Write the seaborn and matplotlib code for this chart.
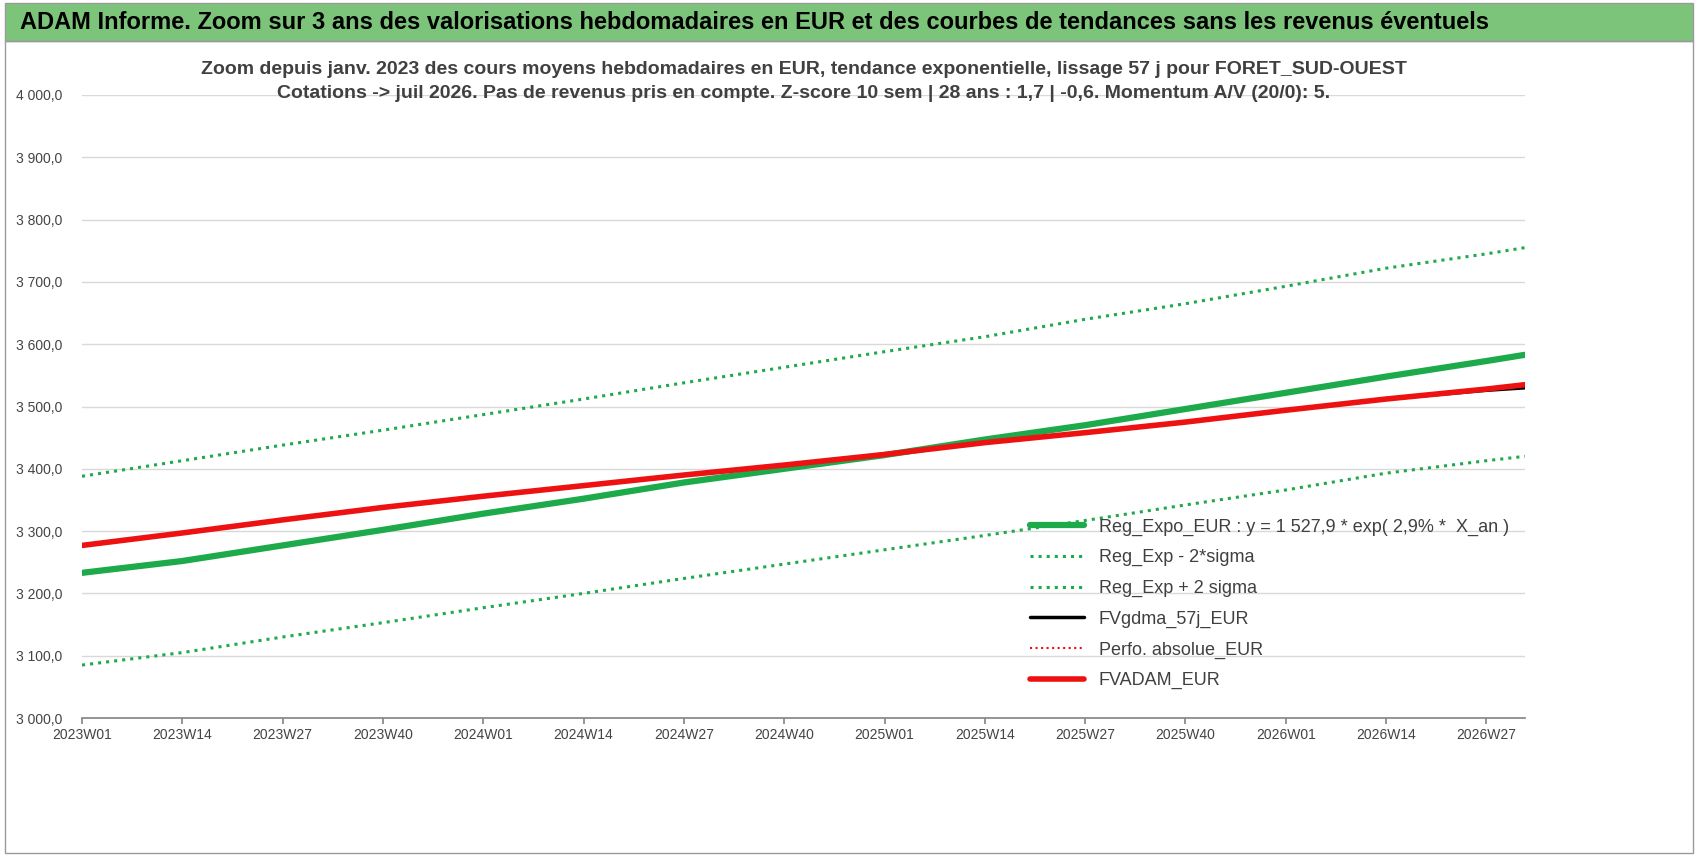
import matplotlib.pyplot as plt
import matplotlib.ticker as ticker
import pandas as pd
import seaborn as sns

# ---------------------------------------------------------------------------
# Data (read from the reference, sampled at each tick + last week)
# ---------------------------------------------------------------------------
WEEK_IDX = [0, 13, 26, 39, 52, 65, 78, 91, 104, 117, 130, 143, 156, 169, 182, 187]
TICK_LABELS = ["2023W01", "2023W14", "2023W27", "2023W40", "2024W01", "2024W14",
               "2024W27", "2024W40", "2025W01", "2025W14", "2025W27", "2025W40",
               "2026W01", "2026W14", "2026W27"]

REG_EXPO = [3233, 3252, 3277, 3302, 3328, 3352, 3378, 3400, 3422, 3447, 3470, 3496, 3522, 3548, 3573, 3583]
REG_LOW = [3085, 3105, 3130, 3153, 3177, 3200, 3224, 3247, 3270, 3293, 3317, 3342, 3366, 3393, 3413, 3420]
REG_HIGH = [3388, 3413, 3438, 3462, 3487, 3512, 3538, 3563, 3588, 3612, 3640, 3665, 3693, 3722, 3745, 3755]
FVGDMA = [3277, 3297, 3318, 3338, 3356, 3373, 3390, 3406, 3423, 3442, 3458, 3475, 3494, 3512, 3526, 3530]
FVADAM = [3277, 3297, 3318, 3338, 3356, 3373, 3390, 3406, 3423, 3442, 3458, 3475, 3494, 3512, 3528, 3535]

GREEN = "#1DAA4A"
RED = "#EE1111"

sns.set_theme(style="white")
plt.rcParams["font.family"] = ["Liberation Sans", "DejaVu Sans"]

fig = plt.figure(figsize=(16.98, 8.56), dpi=100)
# banner
fig.patches.append(plt.Rectangle((0.003, 0.952), 0.994, 0.045, transform=fig.transFigure,
                                 facecolor="#7DC47B", edgecolor="#9A9A9A", lw=1))
fig.patches.append(plt.Rectangle((0.003, 0.003), 0.994, 0.949, transform=fig.transFigure,
                                 facecolor="none", edgecolor="#9A9A9A", lw=1))
fig.text(0.012, 0.974, "ADAM Informe. Zoom sur 3 ans des valorisations hebdomadaires en EUR "
         "et des courbes de tendances sans les revenus éventuels",
         fontsize=17, fontweight="bold", va="center", color="black")

ax = fig.add_axes([82 / 1698, 1 - 718 / 856, (1525 - 82) / 1698, (718 - 95) / 856])

df = pd.DataFrame({"x": WEEK_IDX})
series = [
    ("Reg_Expo_EUR : y = 1 527,9 * exp( 2,9% *  X_an )", REG_EXPO, GREEN, "-", 4.5),
    ("Reg_Exp - 2*sigma", REG_LOW, GREEN, ":", 2.2),
    ("Reg_Exp + 2 sigma", REG_HIGH, GREEN, ":", 2.2),
    ("FVgdma_57j_EUR", FVGDMA, "black", "-", 2.5),
    ("Perfo. absolue_EUR", FVADAM, RED, ":", 1.5),
    ("FVADAM_EUR", FVADAM, RED, "-", 4),
]
for name, vals, color, ls, lw in series:
    sns.lineplot(x=df["x"], y=vals, ax=ax, color=color, linestyle=ls, linewidth=lw, label=name)

ax.set_xlim(0, 187)
ax.set_ylim(3000, 4000)
ax.set_xticks(WEEK_IDX[:len(TICK_LABELS)])
ax.set_xticklabels(TICK_LABELS, fontsize=10, color="#444444")
ax.yaxis.set_major_locator(ticker.MultipleLocator(100))
ax.yaxis.set_major_formatter(ticker.FuncFormatter(
    lambda v, p: f"{v:,.1f}".replace(",", " ").replace(".", ",")))
ax.tick_params(axis="y", labelsize=10, labelcolor="#444444", pad=8)
ax.tick_params(axis="x", bottom=True, length=4, color="#888888")
ax.grid(axis="y", color="#D9D9D9", lw=1)
ax.set_xlabel("")
ax.set_ylabel("")
for s in ["top", "right", "left"]:
    ax.spines[s].set_visible(False)
ax.spines["bottom"].set_color("#888888")

ax.set_title("Zoom depuis janv. 2023 des cours moyens hebdomadaires en EUR, tendance exponentielle, "
             "lissage 57 j pour FORET_SUD-OUEST\nCotations -> juil 2026. Pas de revenus pris en compte. "
             "Z-score 10 sem | 28 ans : 1,7 | -0,6. Momentum A/V (20/0): 5.",
             fontsize=14, fontweight="bold", color="#404040", linespacing=1.5, pad=-2)

ax.legend(loc="lower right", bbox_to_anchor=(1.0, 0.02), frameon=False, fontsize=13,
          handlelength=3, labelspacing=0.75, labelcolor="#404040")

fig.savefig("out.png", dpi=100)
